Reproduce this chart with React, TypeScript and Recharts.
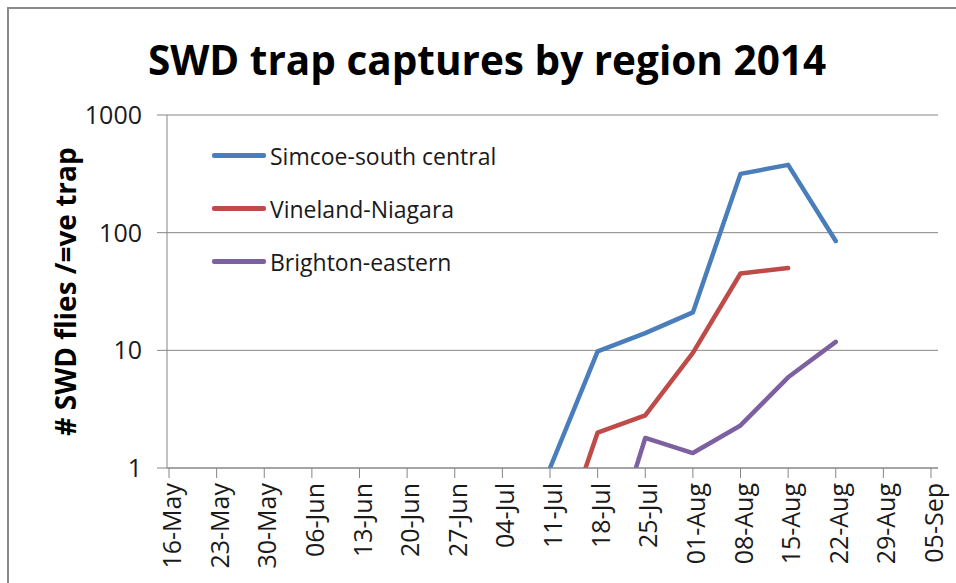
import React from 'react';
import { LineChart, Line, XAxis, YAxis, CartesianGrid, Legend } from 'recharts';

const dateLabels = [
  '16-May', '23-May', '30-May', '06-Jun', '13-Jun', '20-Jun', '27-Jun', '04-Jul',
  '11-Jul', '18-Jul', '25-Jul', '01-Aug', '08-Aug', '15-Aug', '22-Aug', '29-Aug', '05-Sep',
];
const dayOfYearOffset = dateLabels.map((_, i) => i * 7);

const simcoe: (number | null)[] = [null, null, null, null, null, null, null, null, 1, 9.8, 14, 21, 316, 377, 85, null, null];
const vineland: (number | null)[] = [null, null, null, null, null, null, null, null, 0.13, 2, 2.8, 9.5, 45, 50, null, null, null];
const brighton: (number | null)[] = [null, null, null, null, null, null, null, null, null, 0.09, 1.8, 1.34, 2.3, 5.9, 11.8, null, null];

const yTicks = [1, 10, 100, 1000];

const seriesNames = ['Simcoe-south central', 'Vineland-Niagara', 'Brighton-eastern'];
const seriesColors = ['#4A7EBB', '#BE4B48', '#7D60A0'];

const data = dateLabels.map((label, i) => ({
  day: dayOfYearOffset[i],
  label,
  simcoe: simcoe[i],
  vineland: vineland[i],
  brighton: brighton[i],
}));

const FONT = '"Open Sans", "DejaVu Sans", sans-serif';

const XTick = (props: any) => {
  const { x, y, payload } = props;
  const idx = Math.round(payload.value / 7);
  const text = dateLabels[idx] ?? '';
  return (
    <text
      x={x + 2}
      y={y}
      transform={`rotate(-90 ${x + 2} ${y})`}
      textAnchor="end"
      dominantBaseline="central"
      fontFamily={FONT}
      fontSize={25}
      fill="#1a1a1a"
    >
      {text}
    </text>
  );
};

const renderLegend = (props: any) => {
  const payload = [...(props.payload || [])].sort(
    (a: any, b: any) => seriesNames.indexOf(a.value) - seriesNames.indexOf(b.value)
  );
  return (
    <div style={{ fontFamily: FONT }}>
      {payload.map((entry: any) => (
        <div key={entry.value} style={{ display: 'flex', alignItems: 'center', height: 53 }}>
          <div style={{ width: 54, height: 4.5, background: entry.color, borderRadius: 2 }} />
          <span style={{ marginLeft: 4, fontSize: 23, color: '#1a1a1a', whiteSpace: 'nowrap' }}>{entry.value}</span>
        </div>
      ))}
    </div>
  );
};

const YLabel = (props: any) => {
  const { viewBox } = props;
  const cy = viewBox.y + viewBox.height / 2;
  const cx = 65;
  return (
    <text
      x={cx}
      y={cy}
      transform={`rotate(-90 ${cx} ${cy})`}
      textAnchor="middle"
      dominantBaseline="central"
      fontFamily={FONT}
      fontWeight="bold"
      fontSize={28}
      fill="#000"
    >
      # SWD flies /=ve trap
    </text>
  );
};

export default function App() {
  return (
    <div style={{ position: 'absolute', left: 0, top: 0, width: 956, height: 583, background: '#fff', overflow: 'hidden' }}>
      <div
        style={{
          position: 'absolute',
          left: 7,
          top: 7,
          width: 960,
          height: 600,
          borderLeft: '2px solid #8a8a8a',
          borderTop: '2px solid #8a8a8a',
        }}
      />
      <div
        style={{
          position: 'absolute',
          left: 0,
          width: 974,
          top: 32,
          textAlign: 'center',
          fontFamily: FONT,
          fontWeight: 'bold',
          fontSize: 40.5,
          color: '#000',
          whiteSpace: 'nowrap',
        }}
      >
        SWD trap captures by region 2014
      </div>
      <div style={{ position: 'absolute', left: 0, top: 0 }}>
        <LineChart width={956} height={583} data={data} margin={{ top: 115, right: 18, bottom: 0, left: 47 }}>
          <CartesianGrid horizontal={true} vertical={false} stroke="#868686" strokeWidth={1} />
          <XAxis
            dataKey="day"
            type="number"
            domain={[0, 112]}
            ticks={dayOfYearOffset}
            interval={0}
            padding={{ left: 2, right: 7 }}
            height={115}
            tickSize={10}
            tickMargin={5}
            tick={<XTick />}
            stroke="#868686"
            axisLine={{ stroke: '#868686' }}
            tickLine={{ stroke: '#868686' }}
          />
          <YAxis
            scale="log"
            domain={[1, 1000]}
            ticks={yTicks}
            allowDataOverflow
            width={120}
            tickSize={10}
            tickMargin={15}
            tick={{ fontFamily: FONT, fontSize: 25, fill: '#1a1a1a' }}
            axisLine={{ stroke: '#868686' }}
            tickLine={{ stroke: '#868686' }}
            label={{ content: <YLabel /> }}
          />
          <Legend
            layout="vertical"
            align="center"
            verticalAlign="middle"
            content={renderLegend}
            wrapperStyle={{ position: 'absolute', left: 212, top: 129, width: 320, height: 160 }}
          />
          <Line
            type="linear"
            dataKey="simcoe"
            name={seriesNames[0]}
            stroke={seriesColors[0]}
            strokeWidth={4.5}
            strokeLinejoin="round"
            strokeLinecap="round"
            dot={false}
            activeDot={false}
            isAnimationActive={false}
          />
          <Line
            type="linear"
            dataKey="vineland"
            name={seriesNames[1]}
            stroke={seriesColors[1]}
            strokeWidth={4.5}
            strokeLinejoin="round"
            strokeLinecap="round"
            dot={false}
            activeDot={false}
            isAnimationActive={false}
          />
          <Line
            type="linear"
            dataKey="brighton"
            name={seriesNames[2]}
            stroke={seriesColors[2]}
            strokeWidth={4.5}
            strokeLinejoin="round"
            strokeLinecap="round"
            dot={false}
            activeDot={false}
            isAnimationActive={false}
          />
        </LineChart>
      </div>
    </div>
  );
}
